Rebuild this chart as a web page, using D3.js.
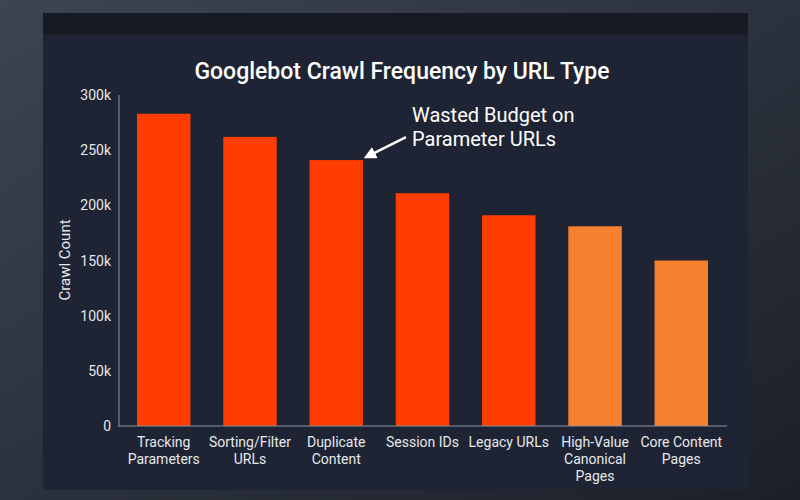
<!DOCTYPE html>
<html><head><meta charset="utf-8">
<script src="https://cdn.jsdelivr.net/npm/d3@7"></script>
<style>body{margin:0;background:#262c36;}svg{display:block;font-family:Roboto,"Noto Sans",sans-serif;}</style>
</head><body><svg id="chart" width="800" height="500"></svg>
<script>
var categories = [["Tracking","Parameters"],["Sorting/Filter","URLs"],["Duplicate","Content"],["Session IDs"],["Legacy URLs"],["High-Value","Canonical","Pages"],["Core Content","Pages"]];
var values = [283000, 262000, 241000, 211000, 191000, 181000, 150000];
var colors = ["#ff3d00","#ff3d00","#ff3d00","#ff3d00","#ff3d00","#f5802e","#f5802e"];
var yTicks = [0, 50000, 100000, 150000, 200000, 250000, 300000];

var svg = d3.select("#chart");
var defs = svg.append("defs");
var g1 = defs.append("linearGradient").attr("id","bg").attr("x1",0).attr("y1",0).attr("x2",1).attr("y2",1);
g1.append("stop").attr("offset","0%").attr("stop-color","#3d4452");
g1.append("stop").attr("offset","100%").attr("stop-color","#1b2028");
svg.append("rect").attr("width",800).attr("height",500).attr("fill","url(#bg)");
svg.append("rect").attr("x",43).attr("y",13).attr("width",705).attr("height",477).attr("fill","#1e2433");
svg.append("rect").attr("x",43).attr("y",13).attr("width",705).attr("height",22).attr("fill","#161a22");

var x = d3.scaleBand().domain(d3.range(values.length)).range([118, 727]).paddingInner(0.38).paddingOuter(0.22);
var y = d3.scaleLinear().domain([0, 300000]).range([426, 95]);

svg.append("text").attr("x",402).attr("y",79).attr("text-anchor","middle").attr("fill","#fff")
  .attr("font-size",23).attr("font-weight",500).text("Googlebot Crawl Frequency by URL Type");

svg.append("line").attr("x1",119).attr("x2",119).attr("y1",95).attr("y2",426).attr("stroke","#8a909c");
svg.selectAll(".yt").data(yTicks).enter().append("text")
  .attr("x",111).attr("y",d=>y(d)+5).attr("text-anchor","end").attr("fill","#e6e8ec").attr("font-size",14)
  .text(d=>d===0?"0":d/1000+"k");
svg.append("text").attr("transform","translate(70,260) rotate(-90)").attr("text-anchor","middle")
  .attr("fill","#e6e8ec").attr("font-size",15).text("Crawl Count");

svg.selectAll(".bar").data(values).enter().append("rect")
  .attr("x",(d,i)=>x(i)).attr("y",d=>y(d)).attr("width",x.bandwidth()).attr("height",d=>y(0)-y(d))
  .attr("fill",(d,i)=>colors[i]);

svg.append("line").attr("x1",118).attr("x2",727).attr("y1",426).attr("y2",426).attr("stroke","#8a909c");

categories.forEach(function(lines,i){
  var t = svg.append("text").attr("text-anchor","middle").attr("fill","#e6e8ec").attr("font-size",14);
  lines.forEach(function(l,j){
    t.append("tspan").attr("x",x(i)+x.bandwidth()/2).attr("y",447+j*17).text(l);
  });
});

defs.append("marker").attr("id","ah").attr("viewBox","0 0 10 10").attr("refX",8).attr("refY",5)
  .attr("markerWidth",5).attr("markerHeight",5).attr("orient","auto")
  .append("path").attr("d","M0,0L10,5L0,10z").attr("fill","#fff");
var ax = x(2)+x.bandwidth()+3, ay = y(values[2])-3;
svg.append("line").attr("x1",ax+40).attr("y1",ay-20).attr("x2",ax).attr("y2",ay)
  .attr("stroke","#fff").attr("stroke-width",2.5).attr("marker-end","url(#ah)");
var ann = svg.append("text").attr("fill","#fff").attr("font-size",20);
ann.append("tspan").attr("x",412).attr("y",122).text("Wasted Budget on");
ann.append("tspan").attr("x",412).attr("y",146).text("Parameter URLs");
</script></body></html>
